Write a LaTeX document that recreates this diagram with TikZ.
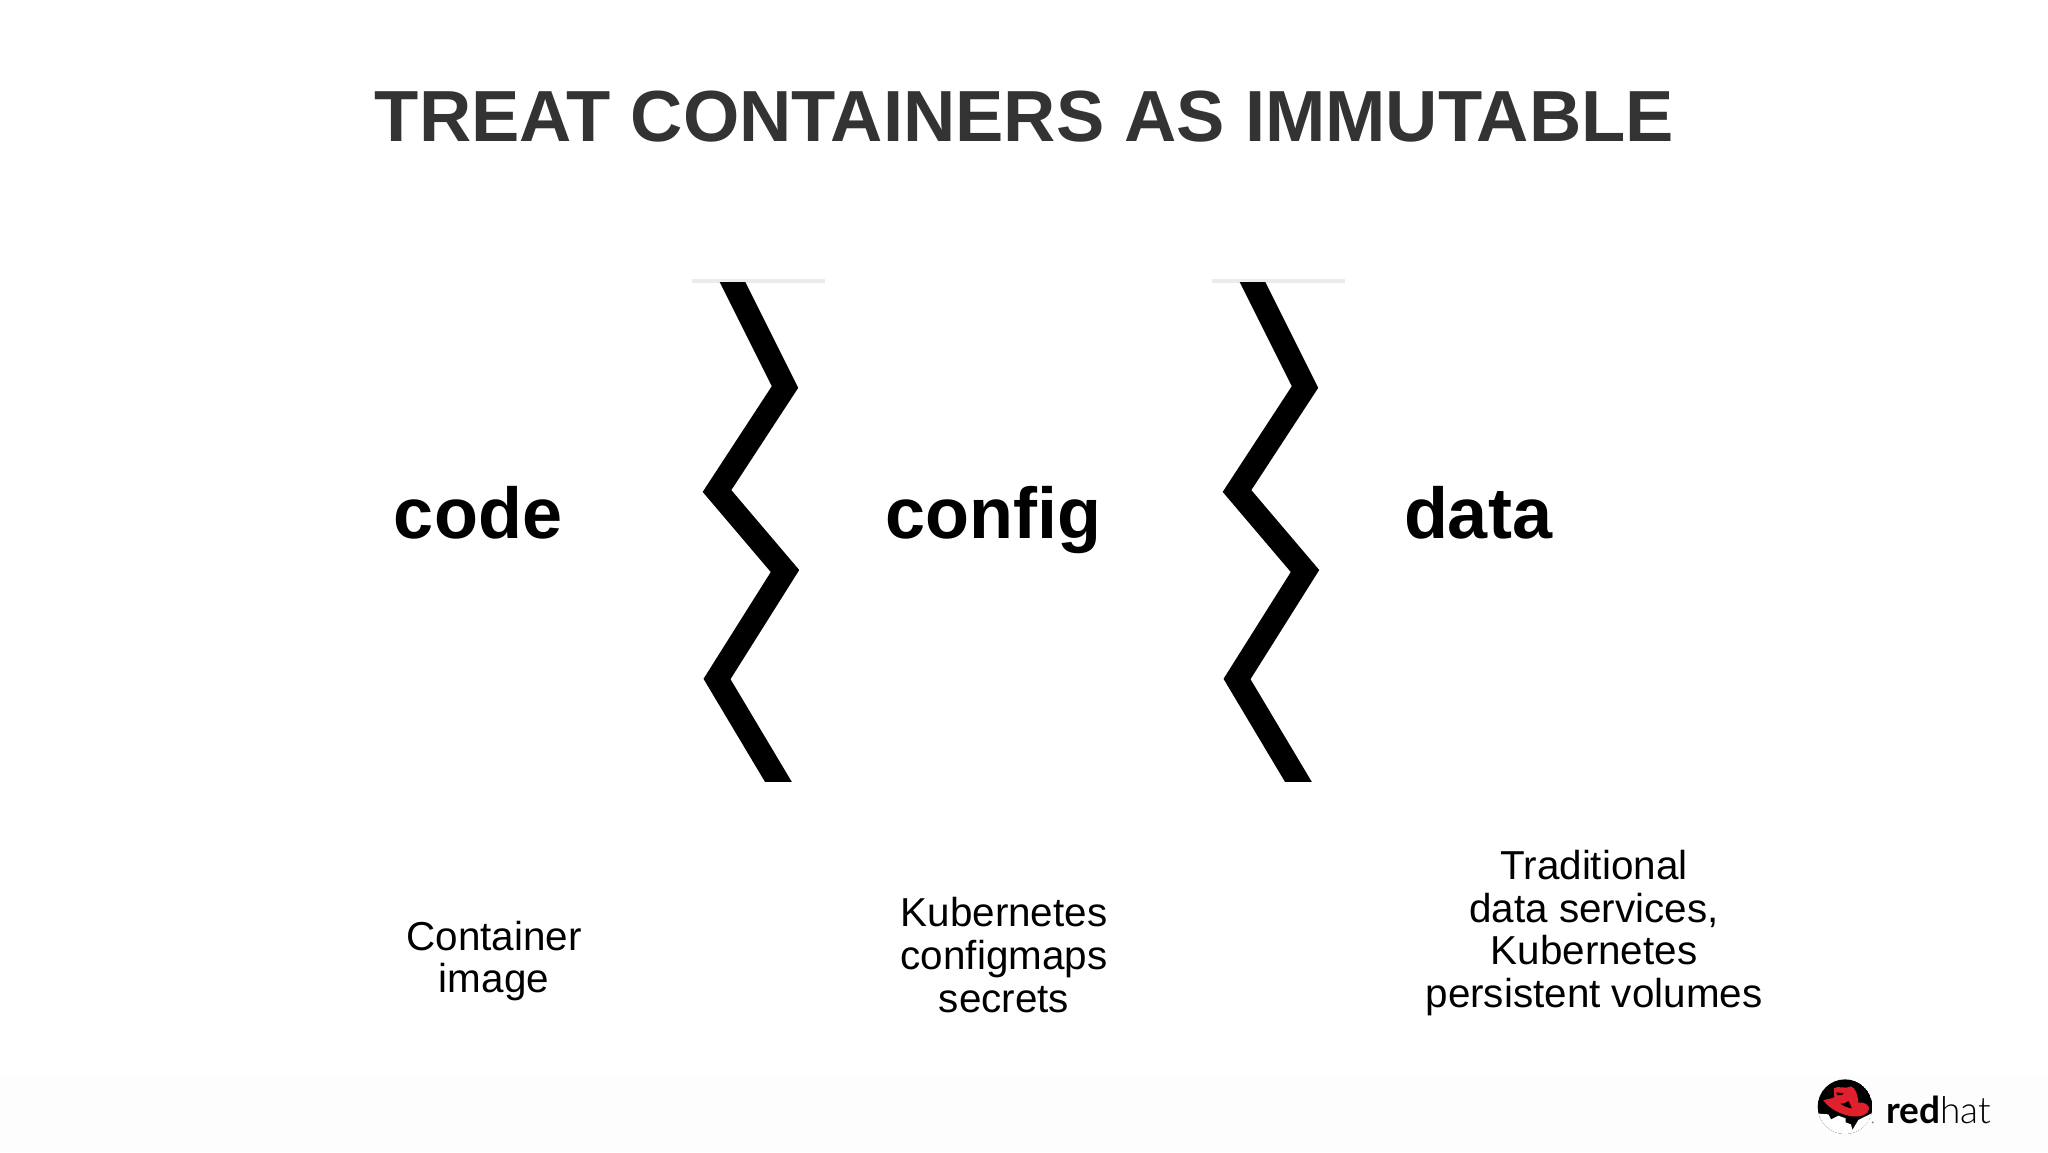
\documentclass[tikz,border=0pt]{standalone}
\usepackage{fontspec}
\setmainfont{Liberation Sans}
\newfontfamily\logofont{Lato}
\newfontfamily\logolight{Lato Light}
\definecolor{titlegray}{HTML}{333333}
\definecolor{stripgray}{HTML}{FDFDFE}
\definecolor{hatred}{HTML}{E0202C}
\begin{document}
\begin{tikzpicture}[x=.5pt,y=-.5pt,inner sep=0pt,outer sep=0pt,
title/.style={font=\fontsize{36.2}{38}\selectfont\bfseries,text=titlegray,anchor=base},
word/.style={font=\fontsize{36}{38}\selectfont\bfseries,anchor=base},
note/.style={font=\fontsize{20.2}{21.4}\selectfont,align=center,anchor=center}]

\useasboundingbox (0,0) rectangle (2048,1152);
\fill[stripgray] (0,1076) rectangle (2048,1152);

\draw (1024.5,141) node[title] (head) {TREAT CONTAINERS AS IMMUTABLE};

\draw (478,538.5) node[word] (code) {code};
\draw (993,538.5) node[word] (config) {config};
\draw (1478,538.5) node[word] (data) {data};

\draw (494,961) node[note] (image) {Container\\image};
\draw (1004,955) node[note] (maps) {Kubernetes\\configmaps\\secrets};
\draw (1594,933) node[note] (volumes) {Traditional\\data services,\\Kubernetes\\persistent volumes};

% zigzag separators
\foreach \dx in {0,520} {
  \begin{scope}[xshift=\dx*.5pt]
    \draw[line width=1.75pt,black!8] (692,281) -- (825,281);
    \begin{scope}
      \clip (650,282.5) rectangle (850,781);
      \draw[line width=11.5pt,miter limit=10] (723,263) -- (785,387) -- (717,491) -- (785,571) -- (717,679) -- (791,803);
    \end{scope}
  \end{scope}
}

% logo
\begin{scope}[shift={(1815,1075)},x=.1667pt,y=-.1667pt]
  \begin{scope}
    \clip (90,95) circle (82);
    \fill[black] (90,95) circle (82);
    \fill[white] (0,115) -- (40,118) -- (48,133) -- (70,122) -- (92,130) -- (92,142) -- (108,148) -- (112,165) -- (130,135) -- (180,110) -- (180,200) -- (0,200) -- cycle;
  \end{scope}
  \fill[hatred] (25,76) .. controls (40,70) and (52,72) .. (58,66) -- (56,40) .. controls (70,30) and (90,44) .. (108,34) .. controls (122,38) and (128,60) .. (130,83) .. controls (147,80) and (164,90) .. (162,102) .. controls (160,120) and (135,126) .. (112,124) .. controls (80,120) and (43,102) .. (25,76) -- cycle;
  \fill[black] (64,52) -- (86,55) -- (80,60) -- (67,60) -- cycle;
  \fill[black] (76,86) .. controls (88,86) and (96,82) .. (100,78) .. controls (105,86) and (108,94) .. (110,100) .. controls (98,98) and (85,93) .. (76,86) -- cycle;
  \fill[black!55] (173,142) circle (3);
\end{scope}
\draw (1886,1123) node[anchor=base west,font=\fontsize{18.5}{19}\selectfont] (logo) {{\logofont\bfseries red}{\logolight hat}};
\fill[black!55] (1988,1122) circle (1);

\end{tikzpicture}
\end{document}
